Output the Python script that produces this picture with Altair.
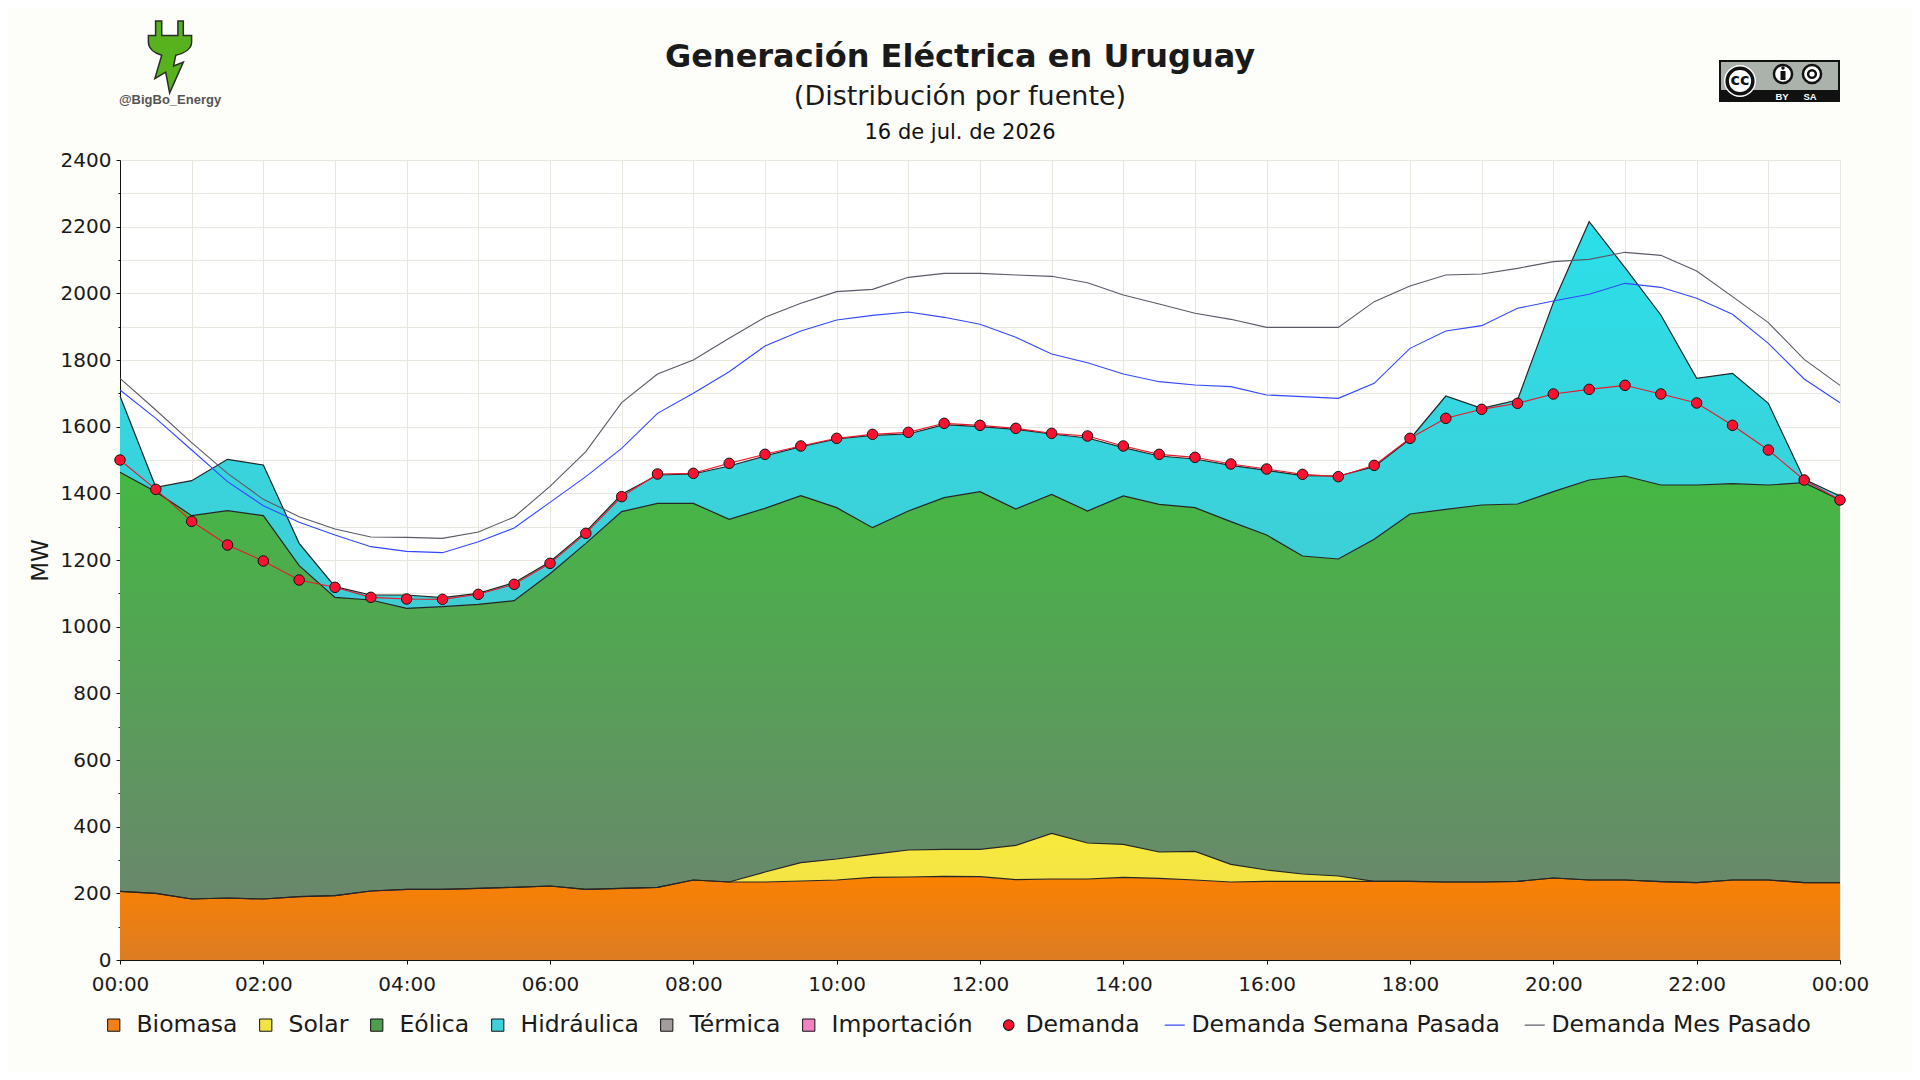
import altair as alt
import pandas as pd

# ---------------- data ----------------
horas = pd.date_range("2026-07-16 00:00", "2026-07-17 00:00", freq="30min").strftime("%Y-%m-%dT%H:%M:%S").tolist()

fuentes = ["Biomasa", "Solar", "Eólica", "Hidráulica", "Térmica", "Importación"]
colores_fuentes = ["#f08018", "#f2e443", "#4e9e52", "#3fd0d8", "#a39c9c", "#f083c0"]

biomasa = [206, 200, 183, 186, 183, 190, 193, 207, 212, 212, 215, 218, 222, 212, 215, 218, 240,
           234, 234, 237, 240, 248, 249, 251, 250, 241, 243, 243, 248, 245, 240, 234, 236, 236,
           236, 236, 236, 234, 234, 236, 246, 240, 240, 235, 232, 240, 240, 232, 232]
solar = [0, 0, 0, 0, 0, 0, 0, 0, 0, 0, 0, 0, 0, 0, 0, 0, 0, 0,
         30, 55, 63, 69, 81, 81, 82, 103, 137, 108, 99, 79, 86, 53, 34, 22, 16,
         0, 0, 0, 0, 0, 0, 0, 0, 0, 0, 0, 0, 0, 0]
eolica = [1257, 1205, 1150, 1162, 1150, 993, 895, 873, 843, 848, 852, 860, 937, 1038, 1130, 1152,
          1130, 1088, 1091, 1101, 1054, 980, 1017, 1055, 1073, 1009, 1017, 996, 1045, 1043, 1031,
          1028, 1005, 954, 951, 1026, 1102, 1118, 1131, 1132, 1159, 1200, 1212, 1190, 1193, 1189,
          1185, 1200, 1148]
hidraulica = [229, 13, 105, 154, 152, 67, 32, 15, 40, 27, 33, 54, 36, 35, 52, 85, 88, 160, 157,
              147, 206, 277, 231, 219, 195, 239, 181, 219, 145, 145, 146, 169, 194, 241, 249, 218,
              225, 340, 290, 312, 567, 775, 625, 510, 320, 331, 245, 10, 12]

series = ["Demanda", "Demanda Semana Pasada", "Demanda Mes Pasado"]
colores_series = ["#e8192c", "#3247ff", "#5a5a68"]
demanda = [1500, 1412, 1316, 1245, 1197, 1140, 1118, 1088, 1083, 1082, 1097, 1127, 1190, 1280,
           1390, 1458, 1460, 1490, 1517, 1542, 1565, 1577, 1583, 1610, 1604, 1595, 1580, 1572,
           1542, 1517, 1508, 1488, 1473, 1457, 1450, 1484, 1565, 1625, 1652, 1670, 1698, 1712,
           1724, 1698, 1671, 1604, 1530, 1440, 1380]
semana_pasada = [1710, 1625, 1530, 1435, 1363, 1313, 1275, 1240, 1226, 1222, 1255, 1296, 1373,
                 1450, 1535, 1640, 1700, 1765, 1842, 1887, 1920, 1934, 1944, 1928, 1907, 1868,
                 1818, 1792, 1758, 1735, 1725, 1720, 1695, 1690, 1685, 1730, 1835, 1887, 1903,
                 1955, 1977, 1997, 2030, 2018, 1985, 1937, 1850, 1743, 1672]
mes_pasado = [1745, 1650, 1552, 1460, 1382, 1330, 1293, 1269, 1268, 1265, 1284, 1329, 1421, 1525,
              1672, 1758, 1800, 1865, 1928, 1970, 2005, 2012, 2048, 2060, 2060, 2055, 2051, 2032,
              1995, 1968, 1940, 1922, 1898, 1898, 1898, 1975, 2022, 2055, 2058, 2075, 2095, 2102,
              2123, 2114, 2067, 1990, 1912, 1802, 1724]

titulo = "Generación Eléctrica en Uruguay"
subtitulo = "(Distribución por fuente)"
fecha = "16 de jul. de 2026"
autor = "@BigBo_Energy"
y_ticks = list(range(0, 2401, 100))

# ---------------- tables ----------------
gen_cols = {"Biomasa": biomasa, "Solar": solar, "Eólica": eolica, "Hidráulica": hidraulica}
rows = []
for orden, f in enumerate(fuentes):
    if f not in gen_cols:
        continue
    for t, v in zip(horas, gen_cols[f]):
        rows.append({"t": t, "fuente": f, "orden": orden, "mw": v})
df_gen = pd.DataFrame(rows)

rows = []
for s, vals in zip(series, [demanda, semana_pasada, mes_pasado]):
    for t, v in zip(horas, vals):
        rows.append({"t": t, "serie": s, "mw": v})
df_lin = pd.DataFrame(rows)
df_dem = df_lin[df_lin["serie"] == "Demanda"]
df_ref = df_lin[df_lin["serie"] != "Demanda"]

# ---------------- scales / axes ----------------
FONT = "DejaVu Sans"
dt_ini = alt.DateTime(year=2026, month=7, date=16, hours=0)
dt_fin = alt.DateTime(year=2026, month=7, date=17, hours=0)
x_values = [alt.DateTime(year=2026, month=7, date=16, hours=h) for h in range(24)] + [dt_fin]

x_axis = alt.Axis(
    values=x_values,
    labelExpr="hours(datum.value) % 2 === 0 ? timeFormat(datum.value, '%H:%M') : ''",
    tickSize={"condition": {"test": "hours(datum.value) % 2 === 0", "value": 4}, "value": 0},
    labelFont=FONT, labelFontSize=20, labelColor="#1a1a1a", labelPadding=10,
    labelOverlap=False, labelFlush=False,
    grid=True, gridColor="#e8e6df", gridWidth=1,
    domainColor="#111111", tickColor="#111111",
)
y_axis = alt.Axis(
    values=y_ticks, format="d",
    labelExpr="datum.value % 200 === 0 ? datum.label : ''",
    tickSize={"condition": {"test": "datum.value % 200 === 0", "value": 4}, "value": 2},
    labelFont=FONT, labelFontSize=20, labelColor="#1a1a1a", labelPadding=5,
    labelOverlap=False,
    grid=True, gridColor="#e8e6df", gridWidth=1,
    domainColor="#111111", tickColor="#111111",
    title="MW", titleFont=FONT, titleFontSize=23, titleFontWeight="normal",
    titleColor="#1a1a1a", titlePadding=8,
)
x_scale = alt.Scale(domain=[dt_ini, dt_fin], nice=False)
y_scale = alt.Scale(domain=[0, 2400], nice=False)

def X():
    return alt.X("t:T", title=None, scale=x_scale, axis=x_axis)

def Y(field):
    return alt.Y(field, scale=y_scale, axis=y_axis)

stacked = alt.Chart(df_gen).transform_stack(
    stack="mw", groupby=["t"], as_=["y0", "y1"],
    sort=[alt.SortField("orden", order="ascending")],
)

leg_fuentes = alt.Legend(
    orient="none", legendX=-18, legendY=853, direction="horizontal",
    title=None, symbolType="square", symbolSize=150,
    symbolStrokeColor="#111111", symbolStrokeWidth=1, symbolOpacity=1,
    labelFont=FONT, labelFontSize=23.5, labelColor="#1a1a1a",
    labelOffset=11, columnPadding=16, labelLimit=400,
)
leg_series = alt.Legend(
    orient="none", legendX=877, legendY=853, direction="horizontal",
    title=None, symbolStrokeWidth=1.2, symbolOpacity=1,
    labelFont=FONT, labelFontSize=23.5, labelColor="#1a1a1a",
    labelOffset=5, columnPadding=22, labelLimit=400,
)

# base area (carries the legend)
areas_base = stacked.mark_area(opacity=1).encode(
    x=X(), y=Y("y1:Q"), y2="y0:Q",
    color=alt.Color("fuente:N", scale=alt.Scale(domain=fuentes, range=colores_fuentes),
                    legend=leg_fuentes),
)

gradientes = {
    "Biomasa": ["#fb8100", "#dc7c24"],
    "Solar": ["#f9ea3c", "#f2e24a"],
    "Eólica": ["#44b843", "#6a876c"],
    "Hidráulica": ["#2bdfe9", "#40cdd5"],
}
capas_grad = []
for f, (c0, c1) in gradientes.items():
    capas_grad.append(
        stacked.transform_filter(alt.datum.fuente == f).mark_area(
            opacity=1,
            fill=alt.Gradient(gradient="linear", x1=0, x2=0, y1=0, y2=1,
                              stops=[alt.GradientStop(color=c0, offset=0),
                                     alt.GradientStop(color=c1, offset=1)]),
        ).encode(x=X(), y=Y("y1:Q"), y2="y0:Q")
    )

contornos = stacked.mark_line(stroke="#262626", strokeWidth=1.2).encode(
    x=X(), y=Y("y1:Q"), detail="fuente:N"
)

stroke_scale = alt.Scale(domain=series, range=["#111111", colores_series[1], colores_series[2]])

lineas_ref = alt.Chart(df_ref).mark_line(strokeWidth=1.1).encode(
    x=X(), y=Y("mw:Q"),
    stroke=alt.Stroke("serie:N", scale=stroke_scale, legend=leg_series),
)
linea_dem = alt.Chart(df_dem).mark_line(strokeWidth=1.1, stroke=colores_series[0]).encode(
    x=X(), y=Y("mw:Q"),
)

puntos = alt.Chart(df_dem).mark_point(filled=True, strokeWidth=1, opacity=1).encode(
    x=X(), y=Y("mw:Q"),
    fill=alt.Fill("serie:N", scale=alt.Scale(domain=series, range=["#ff1030", "transparent", "transparent"]),
                  legend=leg_series),
    stroke=alt.Stroke("serie:N", scale=stroke_scale, legend=leg_series),
    shape=alt.Shape("serie:N", scale=alt.Scale(domain=series, range=["circle", "stroke", "stroke"]),
                    legend=leg_series),
    size=alt.Size("serie:N", scale=alt.Scale(type="ordinal", domain=series, range=[110, 400, 400]),
                  legend=leg_series),
)

# ---------------- titles & decorations ----------------
deco = alt.Data(values=[{"k": 0}])
titulo_txt = alt.Chart(deco).mark_text(text=titulo, font=FONT, fontWeight="bold", fontSize=32,
                                       color="#1a1a1a", baseline="middle").encode(
    x=alt.value(840), y=alt.value(-103))
subtitulo_txt = alt.Chart(deco).mark_text(text=subtitulo, font=FONT, fontSize=27,
                                          color="#1a1a1a", baseline="middle").encode(
    x=alt.value(840), y=alt.value(-63.5))
fecha_txt = alt.Chart(deco).mark_text(text=fecha, font=FONT, fontSize=21, color="#111111",
                                      baseline="middle").encode(
    x=alt.value(840), y=alt.value(-27))

PLUG = ("M -0.40 -1 L -0.23 -1 L -0.23 -0.6 L 0.22 -0.6 L 0.22 -1 L 0.37 -1 L 0.37 -0.6 "
        "L 0.6 -0.6 L 0.6 -0.42 C 0.6 -0.22 0.38 -0.1 0.16 -0.05 L 0.10 0.25 L 0.37 0.14 "
        "L -0.01 1 L -0.12 0.42 L -0.42 0.6 L -0.23 -0.05 C -0.4 -0.1 -0.6 -0.22 -0.6 -0.42 "
        "L -0.6 -0.6 L -0.40 -0.6 Z")
logo = alt.Chart(deco).mark_point(shape=PLUG, size=5184, filled=True, fill="#58b21e",
                                  stroke="#2b2b2b", strokeWidth=1.5, opacity=1).encode(
    x=alt.value(50), y=alt.value(-103))
logo_txt = alt.Chart(deco).mark_text(text=autor, font="Liberation Sans", fontWeight="bold",
                                     fontSize=13, color="#555555").encode(
    x=alt.value(50), y=alt.value(-60))

cc_bg = alt.Chart(deco).mark_rect(fill="#111111").encode(
    x=alt.value(1599), x2=alt.value(1720), y=alt.value(-100), y2=alt.value(-58))
cc_grey = alt.Chart(deco).mark_rect(fill="#abb2ab").encode(
    x=alt.value(1601), x2=alt.value(1718), y=alt.value(-98), y2=alt.value(-70))
cc_ring_w = alt.Chart(deco).mark_point(shape="circle", filled=True, fill="#ffffff",
                                       size=1018, opacity=1).encode(x=alt.value(1620), y=alt.value(-79))
cc_ring = alt.Chart(deco).mark_point(shape="circle", filled=True, fill="#ffffff", stroke="#111111",
                                     strokeWidth=3.5, size=660, opacity=1).encode(
    x=alt.value(1620), y=alt.value(-79))
cc_txt = alt.Chart(deco).mark_text(text="cc", font=FONT, fontWeight="bold", fontSize=16,
                                   color="#111111", baseline="middle").encode(
    x=alt.value(1620), y=alt.value(-80))
by_c = alt.Chart(deco).mark_point(shape="circle", filled=True, fill="#ffffff", stroke="#111111",
                                  strokeWidth=2.5, size=330, opacity=1).encode(
    x=alt.value(1663), y=alt.value(-86))
by_head = alt.Chart(deco).mark_point(shape="circle", filled=True, fill="#111111", size=12,
                                     opacity=1).encode(x=alt.value(1663), y=alt.value(-92))
by_body = alt.Chart(deco).mark_rect(fill="#111111").encode(
    x=alt.value(1660.5), x2=alt.value(1665.5), y=alt.value(-89), y2=alt.value(-80))
sa_c = alt.Chart(deco).mark_point(shape="circle", filled=True, fill="#ffffff", stroke="#111111",
                                  strokeWidth=2.5, size=330, opacity=1).encode(
    x=alt.value(1692), y=alt.value(-86))
sa_in = alt.Chart(deco).mark_point(shape="circle", filled=False, stroke="#111111",
                                   strokeWidth=2.5, size=60, opacity=1).encode(
    x=alt.value(1692), y=alt.value(-86))
by_txt = alt.Chart(deco).mark_text(text="BY", font="Liberation Sans", fontWeight="bold",
                                   fontSize=9.5, color="#ffffff", baseline="middle").encode(
    x=alt.value(1662), y=alt.value(-63))
sa_txt = alt.Chart(deco).mark_text(text="SA", font="Liberation Sans", fontWeight="bold",
                                   fontSize=9.5, color="#ffffff", baseline="middle").encode(
    x=alt.value(1690), y=alt.value(-63))

chart = alt.layer(
    areas_base, *capas_grad, contornos, lineas_ref, linea_dem, puntos,
    titulo_txt, subtitulo_txt, fecha_txt, logo, logo_txt,
    cc_bg, cc_grey, cc_ring_w, cc_ring, cc_txt, by_c, by_head, by_body, sa_c, sa_in, by_txt, sa_txt,
).properties(
    width=1720, height=800,
    autosize=alt.AutoSizeParams(type="none"),
    padding={"left": 112, "top": 152, "right": 72, "bottom": 112},
).configure(
    background="#fdfdf9", font=FONT,
).configure_view(
    fill="#ffffff", stroke="transparent",
)

chart.save("out.html", embed_options={"renderer": "svg", "actions": False})
